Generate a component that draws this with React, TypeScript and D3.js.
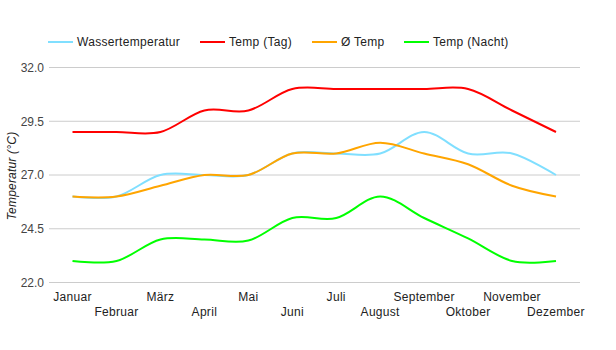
import React from "react";
import * as d3 from "d3";

const months = ["Januar","Februar","März","April","Mai","Juni","Juli","August","September","Oktober","November","Dezember"];
const wasser = [26, 26, 27, 27, 27, 28, 28, 28, 29, 28, 28, 27];
const tag = [29, 29, 29, 30, 30, 31, 31, 31, 31, 31, 30, 29];
const mittel = [26, 26, 26.5, 27, 27, 28, 28, 28.5, 28, 27.5, 26.5, 26];
const nacht = [23, 23, 24, 24, 23.95, 25, 25, 26, 25, 24.05, 23, 23];
const yTicks = [22, 24.5, 27, 29.5, 32];

const seriesNames = ["Wassertemperatur", "Temp (Tag)", "Ø Temp", "Temp (Nacht)"];
const seriesColors = ["#80dfff", "#ff0000", "#ffa500", "#00ff00"];
const seriesData = [wasser, tag, mittel, nacht];
const legendX = [48, 200, 312, 404];

export default function App() {
  const W = 616, H = 350;
  const x = d3.scalePoint<string>().domain(months).range([72.5, 556]);
  const y = d3.scaleLinear().domain([22, 32]).range([282.5, 67.5]);
  const line = d3.line<number>()
    .x((_, i) => x(months[i]) as number)
    .y((d) => y(d))
    .curve(d3.curveCardinal.tension(0));
  const font = "Arial, 'Liberation Sans', sans-serif";
  return (
    <div style={{ position: "fixed", left: 0, top: 0 }}>
      <svg width={W} height={H} style={{ display: "block", background: "#fff" }} fontFamily={font}>
        <rect width={W} height={H} fill="#fff" />
        {yTicks.map((t) => (
          <g key={t}>
            <line x1={49} x2={580} y1={y(t)} y2={y(t)} stroke="#cccccc" strokeWidth={1} />
            <text x={44} y={y(t) + 4.3} textAnchor="end" fontSize={12} fill="#444">{t.toFixed(1)}</text>
          </g>
        ))}
        <text transform={`translate(15.5,176) rotate(-90)`} textAnchor="middle" fontSize={12} fontStyle="italic" letterSpacing={0.2} fill="#222">Temperatur (°C)</text>
        {months.map((m, i) => (
          <text key={m} x={x(m) as number} y={i % 2 === 0 ? 300.5 : 316} textAnchor="middle" fontSize={12} letterSpacing={0.3} fill="#222">{m}</text>
        ))}
        {seriesData.map((s, k) => (
          <path key={k} d={line(s) || ""} fill="none" stroke={seriesColors[k]} strokeWidth={2} />
        ))}
        {seriesNames.map((n, k) => (
          <g key={n}>
            <line x1={legendX[k]} x2={legendX[k] + 25} y1={42} y2={42} stroke={seriesColors[k]} strokeWidth={2} />
            <text x={legendX[k] + 29} y={46.3} fontSize={12} letterSpacing={0.3} fill="#222">{n}</text>
          </g>
        ))}
      </svg>
    </div>
  );
}
